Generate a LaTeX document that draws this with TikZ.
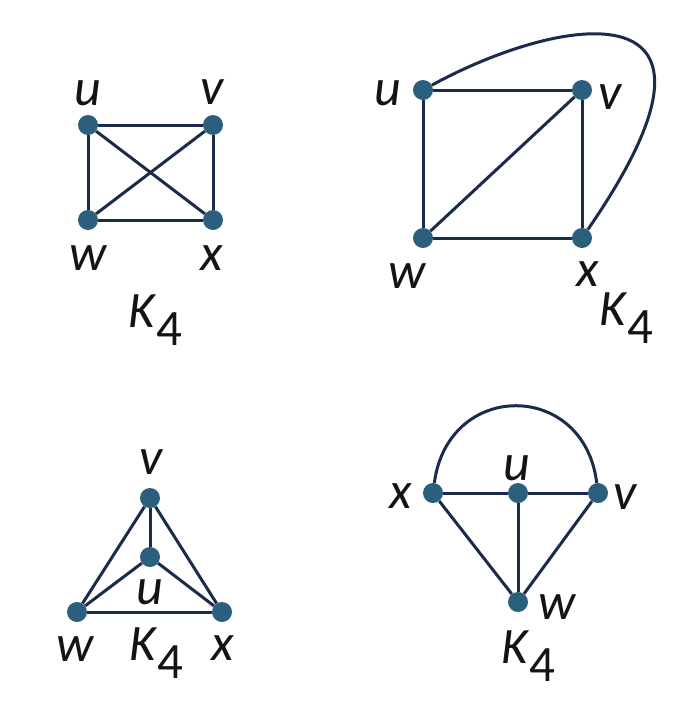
\documentclass[tikz,border=0pt]{standalone}
\usepackage{fontspec}
\setmainfont{Carlito}
\usepackage{tikz}
\definecolor{dotblue}{HTML}{2C5E7E}
\definecolor{edgenavy}{HTML}{1C2B4A}
\definecolor{labelink}{HTML}{141414}
\newcommand{\Kf}{\textit{K}\raisebox{-18pt}{4}}

\begin{document}
\begin{tikzpicture}[x=1pt, y=-1pt,
		dot/.style={circle, fill=dotblue, minimum size=20pt, inner sep=0pt},
		edge/.style={draw=edgenavy, line width=3pt},
		lbl/.style={text=labelink, inner sep=0pt, font=\fontsize{52}{54}\selectfont\itshape},
		kname/.style={text=labelink, inner sep=0pt, anchor=base west, font=\fontsize{51}{53}\selectfont}]
			
			\fill[white] (0,0) rectangle (690,702);
			\useasboundingbox (0,0) rectangle (690,702);
			
			% top left
			\node[dot] (Au) at (88,125) {};
			\node[dot] (Av) at (213,125) {};
			\node[dot] (Aw) at (88,220) {};
			\node[dot] (Ax) at (213,220) {};
			\node[lbl] (Aul) at (88,93) {u};
			\node[lbl] (Avl) at (212,92) {v};
			\node[lbl] (Awl) at (88,258) {w};
			\node[lbl] (Axl) at (212,258) {x};
			\node[kname] (Ak) at (128,327) {\Kf};
			
			\draw[edge] (Au) -- (Av);
			\draw[edge] (Aw) -- (Ax);
			\draw[edge] (Au) -- (Aw);
			\draw[edge] (Av) -- (Ax);
			\draw[edge] (Au) -- (Ax);
			\draw[edge] (Av) -- (Aw);
			
			% top right
			\node[dot] (Bu) at (423,90) {};
			\node[dot] (Bv) at (582,90) {};
			\node[dot] (Bw) at (423,238) {};
			\node[dot] (Bx) at (582,238) {};
			\node[lbl] (Bul) at (388,93) {u};
			\node[lbl] (Bvl) at (610,97) {v};
			\node[lbl] (Bwl) at (407,276) {w};
			\node[lbl] (Bxl) at (588,274) {x};
			\node[kname] (Bk) at (599,325) {\Kf};
			
			\draw[edge] (Bu) -- (Bv);
			\draw[edge] (Bu) -- (Bw);
			\draw[edge] (Bv) -- (Bx);
			\draw[edge] (Bw) -- (Bx);
			\draw[edge] (Bw) -- (Bv);
			\draw[edge] (Bu) .. controls (560,15) and (760,-20) .. (Bx);
			
			% bottom left
			\node[dot] (Cv) at (150,498) {};
			\node[dot] (Cu) at (150,557) {};
			\node[dot] (Cw) at (77,612) {};
			\node[dot] (Cx) at (222,612) {};
			\node[lbl] (Cvl) at (151,462) {v};
			\node[lbl] (Cul) at (150,592) {u};
			\node[lbl] (Cwl) at (75,649) {w};
			\node[lbl] (Cxl) at (223,648) {x};
			\node[kname] (Ck) at (129,660) {\Kf};
			
			\draw[edge] (Cv) -- (Cu);
			\draw[edge] (Cv) -- (Cw);
			\draw[edge] (Cv) -- (Cx);
			\draw[edge] (Cu) -- (Cw);
			\draw[edge] (Cu) -- (Cx);
			\draw[edge] (Cw) -- (Cx);
			
			% bottom right
			\node[dot] (Dx) at (433,493) {};
			\node[dot] (Du) at (518,493) {};
			\node[dot] (Dv) at (598,493) {};
			\node[dot] (Dw) at (518,602) {};
			\node[lbl] (Dxl) at (401,496) {x};
			\node[lbl] (Dul) at (517,468) {u};
			\node[lbl] (Dvl) at (625,497) {v};
			\node[lbl] (Dwl) at (557,607) {w};
			\node[kname] (Dk) at (501,663) {\Kf};
			
			\draw[edge] (Dx) -- (Du);
			\draw[edge] (Du) -- (Dv);
			\draw[edge] (Du) -- (Dw);
			\draw[edge] (Dx) -- (Dw);
			\draw[edge] (Dv) -- (Dw);
			\draw[edge] (Dx) .. controls (448,380) and (584,380) .. (Dv);
		\end{tikzpicture}
\end{document}
